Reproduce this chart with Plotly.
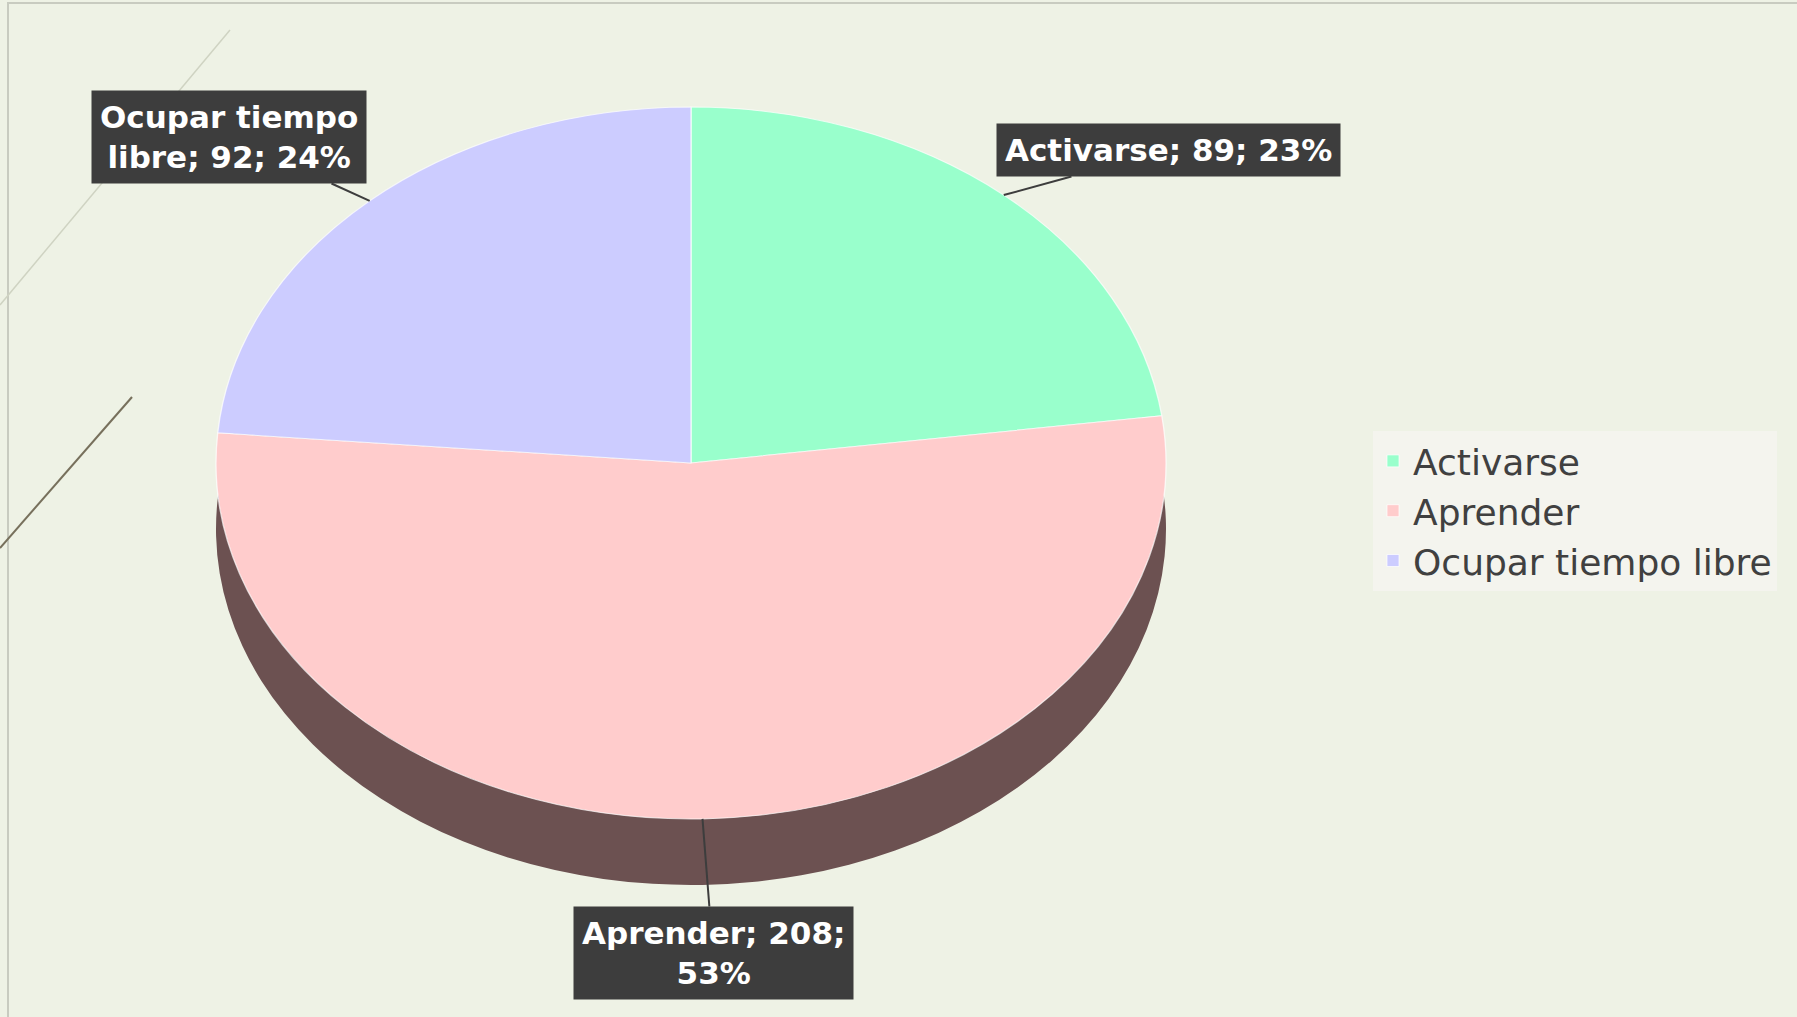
import math
import plotly.graph_objects as go

labels = ["Activarse", "Aprender", "Ocupar tiempo libre"]
values = [89, 208, 92]
percents = [23, 53, 24]
colors = ["#99FFCC", "#FFCCCC", "#CCCCFF"]
side_colors = ["#4f8a6c", "#6c5151", "#6e6e96"]

W, H = 1797, 1017
cx, cy = 691, 463        # pixel centre of the top face
ry, rx = 356, 475        # the face is drawn as a tilted (elliptic) disc
sx = rx / ry
depth = 66


def dom(cxp, cyp, rad):
    return dict(x=[(cxp - rad) / W, (cxp + rad) / W],
                y=[1 - (cyp + rad) / H, 1 - (cyp - rad) / H])


fig = go.Figure()
# lower copy gives the 3D thickness
fig.add_trace(go.Pie(
    labels=labels, values=values, sort=False, direction="clockwise", rotation=0,
    marker=dict(colors=side_colors, line=dict(color="rgba(0,0,0,0)", width=0)),
    textinfo="none", hoverinfo="skip", showlegend=False,
    domain=dom(cx, cy + depth, ry),
))
fig.add_trace(go.Pie(
    labels=labels, values=values, sort=False, direction="clockwise", rotation=0,
    marker=dict(colors=colors, line=dict(color="rgba(255,255,255,0.7)", width=1)),
    textinfo="none", showlegend=True,
    domain=dom(cx, cy, ry),
))

# data-label callouts
total = sum(values)
box_centres = [(1168, 150), (713, 953), (229, 137)]
texts = [
    f"{labels[0]}; {values[0]}; {percents[0]}%",
    f"{labels[1]}; {values[1]};<br>{percents[1]}%",
    "Ocupar tiempo<br>libre; %d; %d%%" % (values[2], percents[2]),
]
cum = 0
annotations = []
for i, v in enumerate(values):
    mid = (cum + v / 2) / total * 2 * math.pi
    cum += v
    px = cx + rx * math.sin(mid)
    py = cy - ry * math.cos(mid)
    annotations.append(dict(
        x=px / W, y=1 - py / H, xref="paper", yref="paper",
        text=texts[i], showarrow=True, arrowhead=0, arrowwidth=2,
        arrowcolor="#3d3d3d", ax=box_centres[i][0] - px, ay=box_centres[i][1] - py,
        bgcolor="#3d3d3d", borderpad=8,
        font=dict(family="'DejaVu Sans', sans-serif", size=31, color="white", weight="bold"),
        align="center",
    ))

shapes = [
    dict(type="rect", xref="paper", yref="paper", x0=8 / W, x1=1.01, y0=-0.01, y1=1 - 3 / H,
         line=dict(color="#c8cbc0", width=2), fillcolor="rgba(0,0,0,0)", layer="below"),
    dict(type="line", xref="paper", yref="paper", x0=0, y0=1 - 305 / H, x1=230 / W, y1=1 - 30 / H,
         line=dict(color="#cfd3c2", width=1.5), layer="below"),
    dict(type="line", xref="paper", yref="paper", x0=0, y0=1 - 548 / H, x1=132 / W, y1=1 - 397 / H,
         line=dict(color="#77705c", width=2), layer="below"),
]

fig.update_layout(
    width=W, height=H,
    margin=dict(l=0, r=0, t=0, b=0),
    paper_bgcolor="#eef2e5",
    plot_bgcolor="#eef2e5",
    annotations=annotations,
    shapes=shapes,
    legend=dict(
        x=1373 / W, y=1 - 511 / H, xanchor="left", yanchor="middle",
        font=dict(family="'DejaVu Sans', sans-serif", size=36, color="#404040"),
        bgcolor="rgba(245,245,240,0.85)",
    ),
)

post = (
    "document.body.style.margin='0';"
    "var gd = document.getElementById('{plot_id}');"
    "function squash(){var l = gd.querySelector('.pielayer');"
    "if(l){l.setAttribute('transform','translate(" + str(cx * (1 - sx)) + ",0) scale(" + str(sx) + ",1)');}}"
    "squash(); gd.on('plotly_afterplot', squash);"
)

fig.write_html("out.html", post_script=post, config={"displayModeBar": False})
